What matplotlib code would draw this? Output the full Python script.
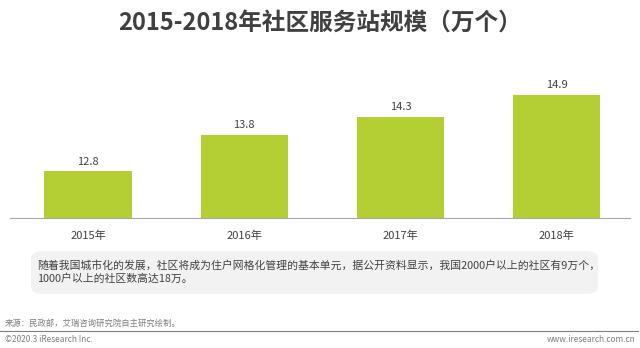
import matplotlib
matplotlib.use("Agg")
import matplotlib.pyplot as plt
from matplotlib.patches import FancyBboxPatch

plt.rcParams['font.family'] = ['Noto Sans CJK SC', 'DejaVu Sans']

categories = ["2015年", "2016年", "2017年", "2018年"]
values = [12.8, 13.8, 14.3, 14.9]
title = "2015-2018年社区服务站规模（万个）"
note = ("随着我国城市化的发展，社区将成为住户网格化管理的基本单元，据公开资料显示，我国2000户以上的社区有9万个，\n"
        "1000户以上的社区数高达18万。")
source = "来源：民政部，艾瑞咨询研究院自主研究绘制。"
copyright_txt = "©2020.3 iResearch Inc."
site = "www.iresearch.com.cn"

W, H = 640, 348
fig = plt.figure(figsize=(W/100, H/100), dpi=100)
fig.patch.set_facecolor("white")

# axes: x 10..630, y top 85 .. bottom 218 (pixels)
ax = fig.add_axes([10/W, 1-218/H, 620/W, (218-85)/H])
x = range(len(categories))
bars = ax.bar(x, values, width=0.56, color="#b3cf34", zorder=2)
ax.set_ylim(11.5, 15.17)
ax.set_xlim(-0.5, 3.47)
for b, v in zip(bars, values):
    ax.text(b.get_x()+b.get_width()/2, v+0.12, f"{v:.1f}", ha="center", va="bottom",
            fontsize=8, color="#404040")
ax.set_xticks(list(x))
ax.set_xticklabels(categories, fontsize=8, color="#404040")
ax.tick_params(axis="x", length=0, pad=9)
ax.set_yticks([])
for s in ["top", "right", "left"]:
    ax.spines[s].set_visible(False)
ax.spines["bottom"].set_color("#a6a6a6")
ax.spines["bottom"].set_linewidth(0.8)

fig.text(320/W, 1-23/H, title, ha="center", va="center", fontsize=17,
         fontweight="bold", color="#404040")

box = FancyBboxPatch((31/W, 1-294/H), (598-31)/W, (294-251)/H,
                     boxstyle="round,pad=0,rounding_size=0.02", transform=fig.transFigure,
                     facecolor="#f2f2f2", edgecolor="none")
fig.patches.append(box)
fig.text(37/W, 1-272/H, note, ha="left", va="center", fontsize=7.8, color="#404040",
         linespacing=1.3)

fig.text(5/W, 1-323/H, source, ha="left", va="center", fontsize=6, color="#7f7f7f")
fig.add_artist(plt.Line2D([0, 638/W], [1-331/H, 1-331/H], transform=fig.transFigure,
                          color="#7f7f7f", linewidth=0.8))
fig.text(5/W, 1-339/H, copyright_txt, ha="left", va="center", fontsize=6, color="#7f7f7f")
fig.text(636/W, 1-339/H, site, ha="right", va="center", fontsize=6, color="#7f7f7f")

fig.savefig("out.png", dpi=100)
